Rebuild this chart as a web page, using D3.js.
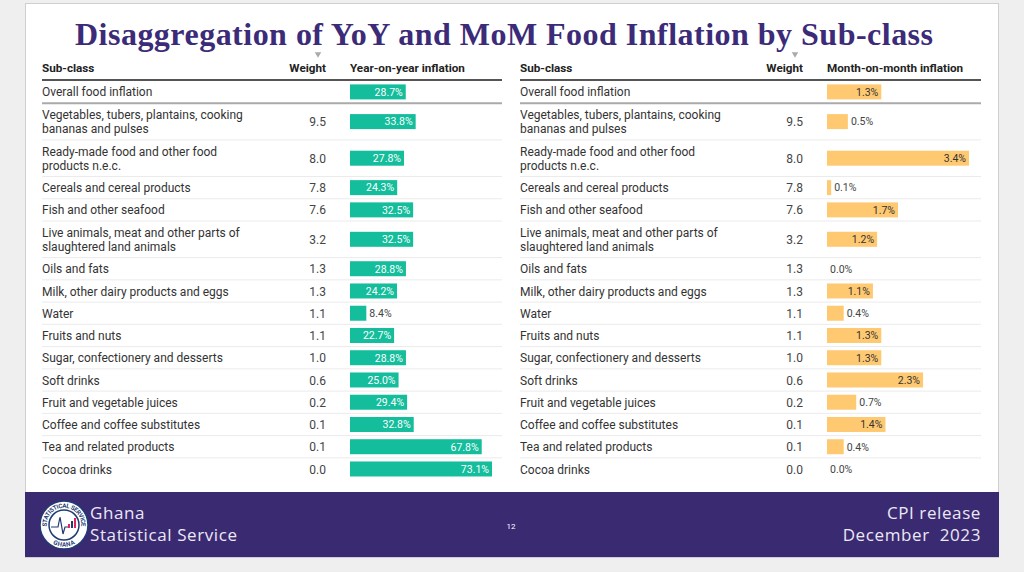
<!DOCTYPE html>
<html>
<head>
<meta charset="utf-8">
<script src="https://cdn.jsdelivr.net/npm/d3@7"></script>
<style>
  html, body { margin: 0; padding: 0; background: #efefef; }
  svg { display: block; }
</style>
</head>
<body>
<svg id="chart" width="1024" height="572"></svg>
<script>
// Food inflation by sub-class, Dec 2023

const subclasses = [
  'Overall food inflation',
  'Vegetables, tubers, plantains, cooking\nbananas and pulses',
  'Ready-made food and other food\nproducts n.e.c.',
  'Cereals and cereal products',
  'Fish and other seafood',
  'Live animals, meat and other parts of\nslaughtered land animals',
  'Oils and fats',
  'Milk, other dairy products and eggs',
  'Water',
  'Fruits and nuts',
  'Sugar, confectionery and desserts',
  'Soft drinks',
  'Fruit and vegetable juices',
  'Coffee and coffee substitutes',
  'Tea and related products',
  'Cocoa drinks'
];
const weights = [null, 9.5, 8.0, 7.8, 7.6, 3.2, 1.3, 1.3, 1.1, 1.1, 1.0, 0.6, 0.2, 0.1, 0.1, 0.0];
const yoy = [28.7, 33.8, 27.8, 24.3, 32.5, 32.5, 28.8, 24.2, 8.4, 22.7, 28.8, 25.0, 29.4, 32.8, 67.8, 73.1];
const mom = [1.3, 0.5, 3.4, 0.1, 1.7, 1.2, 0.0, 1.1, 0.4, 1.3, 1.3, 2.3, 0.7, 1.4, 0.4, 0.0];

const TITLE = 'Disaggregation of YoY and MoM Food Inflation by Sub-class';
const FONT = 'Roboto, "Noto Sans", sans-serif';

const svg = d3.select('#chart');

// slide
svg.append('rect').attr('x', 25.5).attr('y', 3.5).attr('width', 973).attr('height', 554)
  .attr('fill', '#fff').attr('stroke', '#cfcfcf');

svg.append('text')
  .attr('x', 75).attr('y', 45)
  .attr('font-family', '"Liberation Serif", "DejaVu Serif", serif')
  .attr('font-weight', 'bold')
  .attr('font-size', 32)
  .attr('fill', '#3b2b78')
  .attr('textLength', 858)
  .attr('lengthAdjust', 'spacing')
  .text(TITLE);

// row layout
const rows = subclasses.map((s, i) => ({
  lines: s.split('\n'), weight: weights[i], yoy: yoy[i], mom: mom[i]
}));
let cur = 80.5;
rows.forEach((r, i) => {
  const h = r.lines.length > 1 ? 36.6 : (i === 0 ? 22.8 : 22.25);
  r.top = cur; r.h = h; r.cy = cur + h / 2;
  cur += h;
});

function table(opts) {
  const g = svg.append('g');
  const { x0, x1, weightX, barX, values, color, labelColor, header } = opts;
  const x = d3.scaleLinear().domain([0, d3.max(values)]).range([0, 142]);

  // header
  const hd = g.append('g').attr('font-family', FONT).attr('font-weight', 'bold')
    .attr('font-size', 11.7).attr('fill', '#222');
  hd.append('text').attr('x', x0).attr('y', 72).text('Sub-class');
  hd.append('text').attr('x', weightX).attr('y', 72).attr('text-anchor', 'end').text('Weight');
  hd.append('text').attr('x', barX).attr('y', 72).text(header);
  g.append('path').attr('d', d3.symbol(d3.symbolTriangle, 18)())
    .attr('transform', `translate(${weightX - 8},54) rotate(180)`)
    .attr('fill', '#aaa');

  g.append('line').attr('x1', x0).attr('x2', x1).attr('y1', 80).attr('y2', 80)
    .attr('stroke', '#555').attr('stroke-width', 2);

  // separators
  rows.slice(0, -1).forEach((r, i) => {
    const y = r.top + r.h;
    g.append('line').attr('x1', x0).attr('x2', x1).attr('y1', y).attr('y2', y)
      .attr('stroke', i === 0 ? '#aaa' : '#ebebeb')
      .attr('stroke-width', i === 0 ? 2 : 1);
  });

  const row = g.selectAll('g.row').data(rows).join('g').attr('class', 'row')
    .attr('font-family', FONT);

  row.each(function (d) {
    const sel = d3.select(this);
    const n = d.lines.length;
    d.lines.forEach((ln, k) => {
      sel.append('text').attr('x', x0)
        .attr('y', d.cy + (k - (n - 1) / 2) * 14)
        .attr('dy', '0.38em').attr('font-size', 12).attr('fill', '#333')
        .text(ln);
    });
  });

  row.filter(d => d.weight !== null).append('text')
    .attr('x', weightX).attr('y', d => d.cy).attr('dy', '0.38em')
    .attr('text-anchor', 'end').attr('font-size', 12).attr('fill', '#444')
    .text(d => d.weight.toFixed(1));

  row.append('rect')
    .attr('x', barX).attr('y', d => d.cy - 7.5)
    .attr('width', d => x(d[opts.key])).attr('height', 15)
    .attr('fill', color);

  row.append('text')
    .attr('x', d => {
      const w = x(d[opts.key]);
      return w > 35 ? barX + w - 3 : barX + w + 3;
    })
    .attr('y', d => d.cy).attr('dy', '0.36em')
    .attr('text-anchor', d => x(d[opts.key]) > 35 ? 'end' : 'start')
    .attr('font-size', 10.5)
    .attr('fill', d => x(d[opts.key]) > 35 ? labelColor : '#444')
    .text(d => d[opts.key].toFixed(1) + '%');
}

table({ x0: 42, x1: 502, weightX: 326, barX: 350, values: yoy, key: 'yoy',
  color: '#14bd9b', labelColor: '#fff', header: 'Year-on-year inflation' });
table({ x0: 520, x1: 981, weightX: 803, barX: 827, values: mom, key: 'mom',
  color: '#ffc972', labelColor: '#333', header: 'Month-on-month inflation' });

// footer
const foot = svg.append('g');
foot.append('rect').attr('x', 25).attr('y', 492).attr('width', 974).attr('height', 65)
  .attr('fill', '#3a2a72');

const ft = foot.append('g').attr('font-family', '"Open Sans", Lato, sans-serif')
  .attr('font-size', 17).attr('letter-spacing', 0.6).attr('fill', '#ece8f4');
ft.append('text').attr('x', 90).attr('y', 519).text('Ghana');
ft.append('text').attr('x', 90).attr('y', 541).text('Statistical Service');
ft.append('text').attr('x', 981).attr('y', 519).attr('text-anchor', 'end').text('CPI release');
ft.append('text').attr('x', 981).attr('y', 541).attr('text-anchor', 'end')
  .text('December\u00a0 2023');
foot.append('text').attr('x', 511).attr('y', 529).attr('text-anchor', 'middle')
  .attr('font-family', FONT).attr('font-size', 8).attr('fill', '#fff').text('12');

// logo
const logo = foot.append('g').attr('transform', 'translate(64,525)');
logo.append('circle').attr('r', 24).attr('fill', '#fff').attr('stroke', '#1f3b73').attr('stroke-width', 1.5);
logo.append('circle').attr('r', 15).attr('fill', '#fff').attr('stroke', '#1f3b73').attr('stroke-width', 1.5);
logo.append('path').attr('id', 'arcTop').attr('d', 'M -19.5 0 A 19.5 19.5 0 0 1 19.5 0').attr('fill', 'none');
logo.append('path').attr('id', 'arcBot').attr('d', 'M -19.5 0 A 19.5 19.5 0 0 0 19.5 0').attr('fill', 'none');
logo.append('text').attr('font-family', FONT).attr('font-weight', 'bold').attr('font-size', 6.2)
  .attr('fill', '#1f3b73').attr('dy', '2.2')
  .append('textPath').attr('href', '#arcTop').attr('startOffset', '50%').attr('text-anchor', 'middle')
  .text('STATISTICAL SERVICE');
logo.append('text').attr('font-family', FONT).attr('font-weight', 'bold').attr('font-size', 6.2)
  .attr('fill', '#1f3b73').attr('dy', '2.2')
  .append('textPath').attr('href', '#arcBot').attr('startOffset', '50%').attr('text-anchor', 'middle')
  .text('GHANA');
logo.append('path').attr('d', 'M -13 2 L -6 2 L -4 -8 L -1 9 L 1 2 L 4 2')
  .attr('fill', 'none').attr('stroke', '#1f3b73').attr('stroke-width', 1.2);
[[4, 4, '#e0245e'], [7, 7, '#1f3b73'], [10, 10, '#e0245e']].forEach(([bx, bh, c]) => {
  logo.append('rect').attr('x', bx).attr('y', 3 - bh).attr('width', 2).attr('height', bh).attr('fill', c);
});
</script>
</body>
</html>
